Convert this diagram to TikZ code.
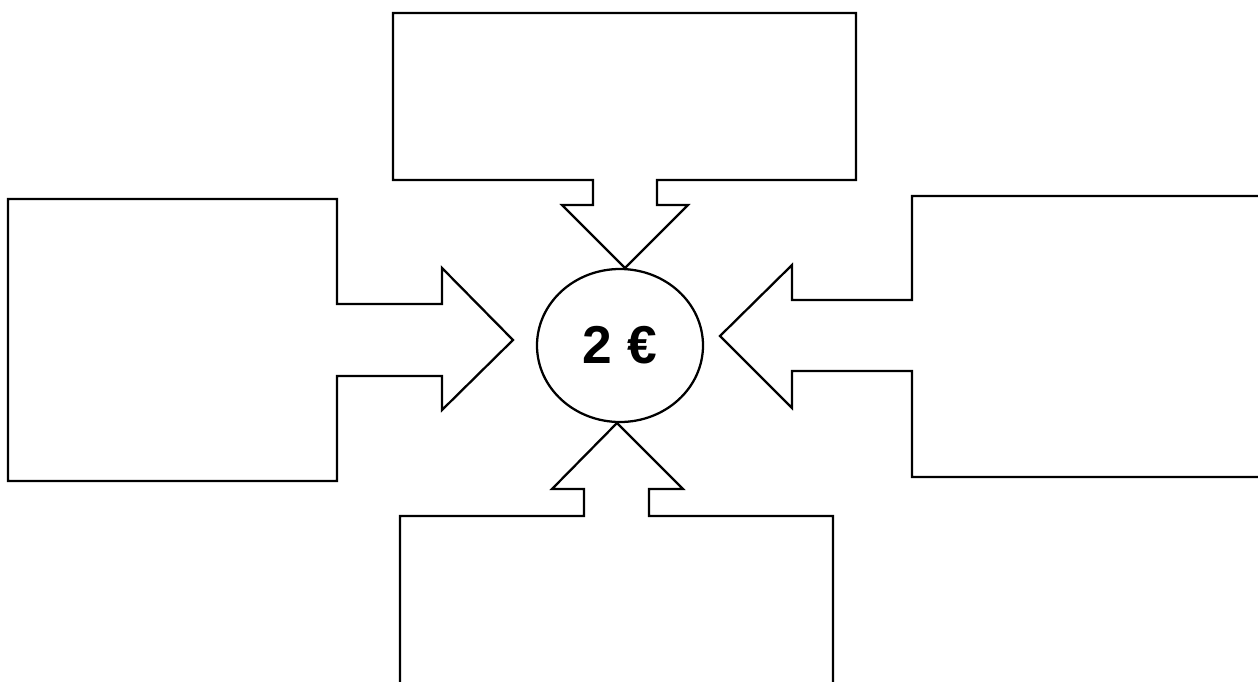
\documentclass[tikz,border=0pt]{standalone}
\usepackage{fontspec}
\setmainfont{Liberation Sans}
\usetikzlibrary{shapes.geometric}
\begin{document}
\begin{tikzpicture}[x=0.75pt,y=-0.75pt,
  callout/.style={draw=black,line width=1.7pt,fill=white,line join=miter},
  coin/.style={ellipse,draw=black,line width=1.7pt,minimum width=124.5pt,minimum height=114.75pt,inner sep=0pt,font=\fontsize{40}{48}\selectfont\bfseries}]
\useasboundingbox (0,0) rectangle (1258,682);
% top callout
\draw[callout] (393,13) -- (856,13) -- (856,180) -- (657,180) -- (657,205) -- (688,205) -- (625,268) -- (562,205) -- (593,205) -- (593,180) -- (393,180) -- cycle;
% left callout
\draw[callout] (8,199) -- (337,199) -- (337,304) -- (442,304) -- (442,268) -- (513,340) -- (442,410) -- (442,376) -- (337,376) -- (337,481) -- (8,481) -- cycle;
% right callout
\draw[callout] (1266,196) -- (912,196) -- (912,300) -- (792,300) -- (792,265) -- (720,336) -- (792,408) -- (792,371) -- (912,371) -- (912,477) -- (1266,477) -- cycle;
% bottom callout
\draw[callout] (400,692) -- (400,516) -- (584,516) -- (584,489) -- (552,489) -- (617,423) -- (683,489) -- (649,489) -- (649,516) -- (833,516) -- (833,692) -- cycle;
% centre
\node[coin] (coin) at (620,345.5) {2 €};
\end{tikzpicture}
\end{document}
